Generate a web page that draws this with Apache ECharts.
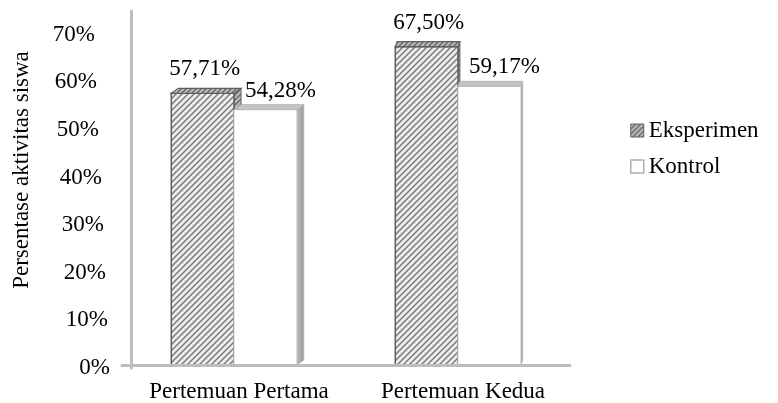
<!DOCTYPE html>
<html>
<head>
<meta charset="utf-8">
<script src="https://cdn.jsdelivr.net/npm/echarts@6/dist/echarts.min.js"></script>
<style>
  html, body { margin: 0; padding: 0; background: #ffffff; }
  #chart { width: 778px; height: 403px; }
</style>
</head>
<body>
<div id="chart"></div>
<script>
// Chart data
const categories = ['Pertemuan Pertama', 'Pertemuan Kedua'];
const eksperimen = [57.71, 67.50];
const kontrol = [54.28, 59.17];
const yTicks = [0, 10, 20, 30, 40, 50, 60, 70];
const seriesNames = ['Eksperimen', 'Kontrol'];
const yTitle = 'Persentase aktivitas siswa';

// Look of the pseudo-3D columns
const FONT = "'Liberation Serif', 'Times New Roman', serif";
const FONT_SIZE = 23;
const BAR_RATIO = 0.28;      // column width as share of a category band
const TOP_DEPTH = 5;         // vertical depth of the column top face
const VANISH_X = 540;        // horizontal point the column sides recede to
const DEPTH_K = 0.023;       // strength of that sideways recession
const FLOOR_LIFT = 3;        // floor sits slightly above the zero line

function hatchTile(bg, line, size, width) {
  const c = document.createElement('canvas');
  c.width = size; c.height = size;
  const g = c.getContext('2d');
  g.fillStyle = bg;
  g.fillRect(0, 0, size, size);
  g.strokeStyle = line;
  g.lineWidth = width;
  g.beginPath();
  g.moveTo(0, size); g.lineTo(size, 0);
  g.moveTo(-1, 1); g.lineTo(1, -1);
  g.moveTo(size - 1, size + 1); g.lineTo(size + 1, size - 1);
  g.stroke();
  return c;
}

const hatchFront = { image: hatchTile('#eeeeee', '#767676', 6, 1.4), repeat: 'repeat' };
const hatchDark = { image: hatchTile('#b8b8b8', '#5a5a5a', 5, 1.2), repeat: 'repeat' };

function fmt(v) {
  return v.toFixed(2).replace('.', ',') + '%';
}

function columnRender(sideIndex) {
  return function (params, api) {
    const i = api.value(0);
    const v = api.value(1);
    const top = api.coord([i, v]);
    const zero = api.coord([i, 0]);
    const band = api.size([1, 0])[0];
    const w = band * BAR_RATIO;
    const cx = top[0];
    const x0 = sideIndex === 0 ? cx - w : cx;
    const x1 = x0 + w;
    const yT = top[1];
    const yB = zero[1] - FLOOR_LIFT;
    const dx = Math.max(1, (VANISH_X - cx) * DEPTH_K);
    const dy = TOP_DEPTH;

    const sidePts = [[x1, yT], [x1 + dx, yT - dy], [x1 + dx, yB - dy], [x1, yB]];
    const topPts = [[x0, yT], [x1, yT], [x1 + dx, yT - dy], [x0 + dx, yT - dy]];

    const children = [];
    if (sideIndex === 0) {
      children.push({
        type: 'polygon', shape: { points: sidePts },
        style: { fill: hatchDark, stroke: '#5f5f5f', lineWidth: 1 }
      });
      children.push({
        type: 'rect', shape: { x: x0, y: yT, width: w, height: yB - yT },
        style: { fill: hatchFront, stroke: '#5f5f5f', lineWidth: 1.5 }
      });
      children.push({
        type: 'polygon', shape: { points: topPts },
        style: { fill: hatchDark, stroke: '#5f5f5f', lineWidth: 1.2 }
      });
      children.push({
        type: 'text',
        style: {
          x: x0 + w / 2 + 2, y: yT - dy - 19,
          text: fmt(v), align: 'center', verticalAlign: 'middle',
          font: FONT_SIZE + 'px ' + FONT, fill: '#000000'
        }
      });
    } else {
      children.push({
        type: 'polygon', shape: { points: sidePts },
        style: {
          fill: new echarts.graphic.LinearGradient(0, 0, 1, 0, [
            { offset: 0, color: '#bdbdbd' },
            { offset: 1, color: '#9a9a9a' }
          ]),
          stroke: '#b0b0b0', lineWidth: 1
        }
      });
      children.push({
        type: 'rect', shape: { x: x0, y: yT, width: w, height: yB - yT },
        style: { fill: '#ffffff', stroke: '#d4d4d4', lineWidth: 1 }
      });
      children.push({
        type: 'polygon', shape: { points: topPts },
        style: { fill: '#c4c4c4', stroke: '#b8b8b8', lineWidth: 1 }
      });
      children.push({
        type: 'text',
        style: {
          x: x0 + w / 2 + 15, y: yT - dy - 14,
          text: fmt(v), align: 'center', verticalAlign: 'middle',
          font: FONT_SIZE + 'px ' + FONT, fill: '#000000'
        }
      });
    }
    return { type: 'group', children: children };
  };
}

// Staggered tick labels of the receding value wall
const tickRich = {};
yTicks.forEach(function (t, k) {
  tickRich['t' + k] = { padding: [0, Math.round(k * 2.1), 0, 0] };
});

const chart = echarts.init(document.getElementById('chart'), null, { renderer: 'canvas' });

chart.setOption({
  animation: false,
  backgroundColor: '#ffffff',
  textStyle: { fontFamily: FONT },
  grid: { left: 122, right: 208, top: 11, bottom: 33, containLabel: false },
  legend: {
    orient: 'vertical',
    left: 625,
    top: 114,
    itemWidth: 13,
    itemHeight: 13,
    itemGap: 13,
    textStyle: { fontFamily: FONT, fontSize: FONT_SIZE, color: '#000000', lineHeight: 23 },
    data: [
      { name: seriesNames[0], icon: 'rect',
        itemStyle: { color: hatchDark, borderColor: '#5f5f5f', borderWidth: 1 } },
      { name: seriesNames[1], icon: 'rect',
        itemStyle: { color: '#ffffff', borderColor: '#b0b0b0', borderWidth: 1.5 } }
    ]
  },
  xAxis: {
    type: 'category',
    data: categories,
    offset: -FLOOR_LIFT,
    z: 5,
    axisLine: { show: true, lineStyle: { color: '#bdbdbd', width: 3 } },
    axisTick: { show: false },
    axisLabel: {
      interval: 0, hideOverlap: false,
      margin: 15, padding: [0, 0, 0, 10],
      fontFamily: FONT, fontSize: FONT_SIZE, color: '#000000'
    },
    splitLine: { show: false }
  },
  yAxis: {
    type: 'value',
    min: 0,
    max: 75,
    interval: 10,
    offset: -9,
    axisLine: { show: true, lineStyle: { color: '#bdbdbd', width: 3 } },
    axisTick: { show: false },
    splitLine: { show: false },
    axisLabel: {
      margin: 21,
      fontFamily: FONT,
      fontSize: FONT_SIZE,
      color: '#000000',
      formatter: function (val) {
        const k = yTicks.indexOf(val);
        if (k < 0) return '';
        return '{t' + k + '|' + val + '%}';
      },
      rich: tickRich
    }
  },
  graphic: [{
    type: 'text',
    x: 22, y: 170,
    rotation: Math.PI / 2,
    style: {
      text: yTitle, align: 'center', verticalAlign: 'middle',
      font: FONT_SIZE + 'px ' + FONT, fill: '#000000'
    }
  }],
  series: [
    {
      type: 'custom',
      name: seriesNames[0],
      renderItem: columnRender(0),
      itemStyle: { color: '#9a9a9a' },
      encode: { x: 0, y: 1 },
      data: eksperimen.map(function (v, i) { return [i, v]; }),
      z: 2
    },
    {
      type: 'custom',
      name: seriesNames[1],
      renderItem: columnRender(1),
      itemStyle: { color: '#ffffff' },
      encode: { x: 0, y: 1 },
      data: kontrol.map(function (v, i) { return [i, v]; }),
      z: 3
    }
  ]
});
</script>
</body>
</html>
